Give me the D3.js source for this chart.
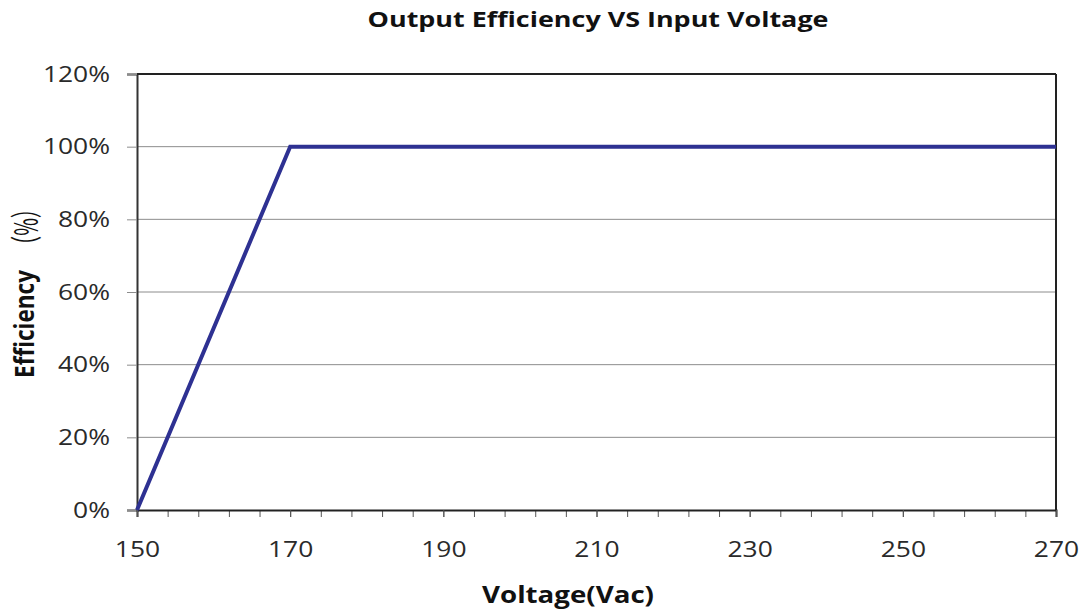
<!DOCTYPE html>
<html>
<head>
<meta charset="utf-8">
<script src="https://cdn.jsdelivr.net/npm/d3@7"></script>
<style>
  body { margin: 0; background: #fff; }
  text { font-family: "Open Sans", "Noto Sans", sans-serif; }
</style>
</head>
<body>
<script>
const width = 1084
const height = 611
const margin = {top: 74, right: 28, bottom: 101, left: 137}

const voltage = [150, 170, 270]
const efficiency = [0, 100, 100]
const xTicks = [150, 170, 190, 210, 230, 250, 270]
const yTicks = [0, 20, 40, 60, 80, 100, 120]

const lineColor = "#2e3192"

// the source picture is a bit wider than tall, so text gets stretched sideways
function stretch(sel, k){
    sel.each(function(){
        let w = this.getComputedTextLength()
        d3.select(this)
            .attr("textLength", w*k)
            .attr("lengthAdjust", "spacingAndGlyphs")
    })
}

let svg = d3.select("body")
    .append("svg")
    .attr("width", width)
    .attr("height", height)

let x = d3.scaleLinear()
    .domain([150, 270])
    .range([margin.left, width - margin.right])

let y = d3.scaleLinear()
    .domain([0, 120])
    .range([height - margin.bottom, margin.top])

// gridlines
svg.append("g")
    .selectAll("line")
    .data(yTicks.slice(1))
    .enter()
    .append("line")
    .attr("x1", x(150))
    .attr("x2", x(270))
    .attr("y1", d => y(d))
    .attr("y2", d => y(d))
    .attr("stroke", "#8c8c8c")
    .attr("stroke-width", 1)

// y axis
let yAxis = svg.append("g")
    .attr("transform", `translate(${x(150)},0)`)
    .call(d3.axisLeft(y).tickValues(yTicks).tickSize(10).tickPadding(17).tickFormat(d => d + "%"))
yAxis.select(".domain").attr("stroke", "#333").attr("stroke-width", 2)
yAxis.selectAll(".tick line").attr("stroke", "#8c8c8c")
yAxis.selectAll(".tick text").attr("font-size", 22).attr("fill", "#2a2a2a").call(stretch, 1.2)

// x axis minor ticks
let xAxisMinor = svg.append("g")
    .attr("transform", `translate(0,${y(0)})`)
    .call(d3.axisBottom(x).tickValues(d3.range(150, 271, 4)).tickSize(7).tickFormat(""))
xAxisMinor.select(".domain").remove()
xAxisMinor.selectAll(".tick line").attr("stroke", "#555")

let xAxis = svg.append("g")
    .attr("transform", `translate(0,${y(0)})`)
    .call(d3.axisBottom(x).tickValues(xTicks).tickSize(7).tickPadding(24))
xAxis.select(".domain").attr("stroke", "#222").attr("stroke-width", 2)
xAxis.selectAll(".tick line").attr("stroke", "#555")
xAxis.selectAll(".tick text").attr("font-size", 22).attr("fill", "#2a2a2a").call(stretch, 1.2)

// top and right borders
svg.append("line")
    .attr("x1", x(150)).attr("x2", x(270))
    .attr("y1", y(120)).attr("y2", y(120))
    .attr("stroke", "#222").attr("stroke-width", 2)
svg.append("line")
    .attr("x1", x(270)).attr("x2", x(270))
    .attr("y1", y(120)).attr("y2", y(0))
    .attr("stroke", "#222").attr("stroke-width", 2)

// data line
let pts = voltage.map((v, i) => [v, efficiency[i]])
svg.append("path")
    .datum(pts)
    .attr("d", d3.line().x(d => x(d[0])).y(d => y(d[1])))
    .attr("fill", "none")
    .attr("stroke", lineColor)
    .attr("stroke-width", 4)

// titles
svg.append("text")
    .attr("x", 598)
    .attr("y", 27)
    .attr("text-anchor", "middle")
    .attr("font-size", 21)
    .attr("font-weight", "bold")
    .attr("fill", "#111")
    .attr("textLength", 461)
    .attr("lengthAdjust", "spacingAndGlyphs")
    .text("Output Efficiency VS Input Voltage")

svg.append("text")
    .attr("x", 568)
    .attr("y", 603)
    .attr("text-anchor", "middle")
    .attr("font-size", 24)
    .attr("font-weight", "bold")
    .attr("fill", "#111")
    .attr("textLength", 172)
    .attr("lengthAdjust", "spacingAndGlyphs")
    .text("Voltage(Vac)")

svg.append("text")
    .attr("transform", "translate(34,324) rotate(-90)")
    .attr("text-anchor", "middle")
    .attr("font-size", 26)
    .attr("font-weight", "bold")
    .attr("fill", "#111")
    .attr("textLength", 108)
    .attr("lengthAdjust", "spacingAndGlyphs")
    .text("Efficiency")

svg.append("text")
    .attr("transform", "translate(38,227) rotate(-90)")
    .attr("text-anchor", "middle")
    .style("font-family", "'Noto Sans CJK SC', sans-serif")
    .attr("font-size", 32)
    .attr("fill", "#111")
    .attr("textLength", 56)
    .attr("lengthAdjust", "spacingAndGlyphs")
    .text("（%）")
</script>
</body>
</html>
